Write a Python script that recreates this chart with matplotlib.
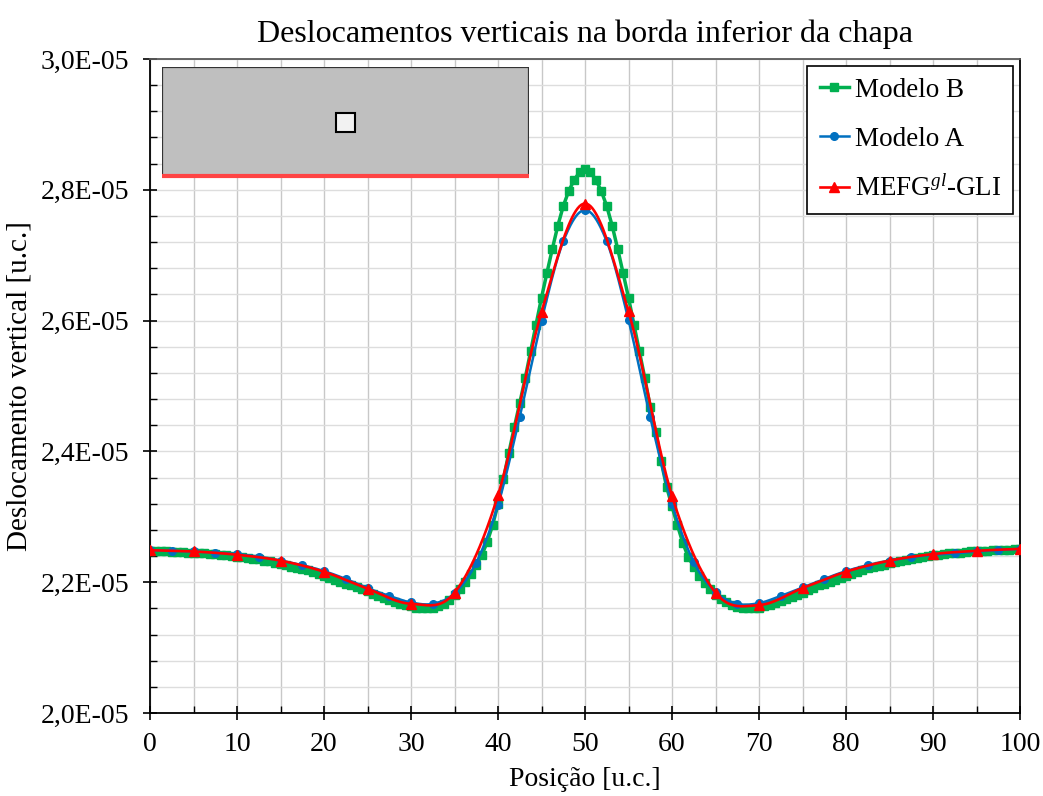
import numpy as np
import matplotlib
matplotlib.use("Agg")
import matplotlib.pyplot as plt
from matplotlib.ticker import MultipleLocator, FuncFormatter
from matplotlib.patches import Rectangle

plt.rcParams['font.family'] = ['Liberation Serif', 'DejaVu Serif']
plt.rcParams['mathtext.fontset'] = 'custom'
plt.rcParams['mathtext.rm'] = 'Liberation Serif'
plt.rcParams['mathtext.it'] = 'Liberation Serif:italic'

SCALE = 1e-5  # values below are in units of 1E-05

# Modelo B (green squares), x from 0 to 100 in steps of 0.625
modelo_b = [
    2.247, 2.247, 2.247, 2.247, 2.246, 2.246, 2.246, 2.245,
    2.245, 2.244, 2.244, 2.243, 2.243, 2.242, 2.241, 2.240,
    2.239, 2.238, 2.237, 2.236, 2.235, 2.233, 2.232, 2.230,
    2.228, 2.226, 2.224, 2.222, 2.220, 2.218, 2.215, 2.213,
    2.210, 2.207, 2.204, 2.201, 2.198, 2.195, 2.192, 2.189,
    2.186, 2.182, 2.179, 2.176, 2.173, 2.170, 2.167, 2.165,
    2.163, 2.161, 2.160, 2.160, 2.161, 2.163, 2.167, 2.173,
    2.181, 2.190, 2.200, 2.212, 2.226, 2.241, 2.261, 2.287,
    2.319, 2.358, 2.398, 2.437, 2.474, 2.512, 2.553, 2.594,
    2.635, 2.673, 2.710, 2.745, 2.775, 2.798, 2.815, 2.827,
    2.832,
    2.827, 2.815, 2.798, 2.775, 2.745, 2.710, 2.673, 2.635,
    2.594, 2.553, 2.512, 2.468, 2.430, 2.385, 2.346, 2.316,
    2.287, 2.260, 2.238, 2.224, 2.210, 2.199, 2.190, 2.181,
    2.174, 2.169, 2.165, 2.162, 2.160, 2.160, 2.160, 2.161,
    2.163, 2.165, 2.168, 2.171, 2.174, 2.177, 2.181, 2.184,
    2.188, 2.191, 2.195, 2.198, 2.201, 2.204, 2.207, 2.210,
    2.213, 2.216, 2.218, 2.221, 2.223, 2.225, 2.227, 2.229,
    2.231, 2.233, 2.234, 2.236, 2.237, 2.238, 2.240, 2.241,
    2.242, 2.243, 2.244, 2.245, 2.245, 2.246, 2.247, 2.247,
    2.248, 2.248, 2.249, 2.249, 2.250, 2.250, 2.251, 2.251,
]

# Modelo A (blue circles), x from 0 to 100 in steps of 2.5
modelo_a = [
    2.249, 2.248, 2.247, 2.245, 2.243, 2.239, 2.233, 2.226,
    2.217, 2.205, 2.191, 2.179, 2.169, 2.167, 2.183, 2.230,
    2.318, 2.453, 2.600, 2.721, 2.769, 2.721, 2.601, 2.452,
    2.320, 2.231, 2.185, 2.167, 2.168, 2.179, 2.192, 2.205,
    2.217, 2.226, 2.233, 2.238, 2.242, 2.244, 2.247, 2.249,
    2.251,
]

# MEFG-GLI (red triangles), x from 0 to 100 in steps of 5
mefg = [
    2.249, 2.247, 2.242, 2.233, 2.216, 2.190, 2.167, 2.184,
    2.333, 2.613, 2.779, 2.614, 2.332, 2.184, 2.165, 2.191,
    2.216, 2.233, 2.243, 2.248, 2.251,
]

x_b = np.linspace(0, 100, len(modelo_b))
x_a = np.linspace(0, 100, len(modelo_a))
x_m = np.linspace(0, 100, len(mefg))


def smooth(x, y, n=24):
    """Excel-like smoothed line (cubic Bezier through the points)."""
    x = np.asarray(x, float)
    y = np.asarray(y, float)
    px = np.concatenate([[x[0]], x, [x[-1]]])
    py = np.concatenate([[y[0]], y, [y[-1]]])
    xs, ys = [], []
    t = np.linspace(0, 1, n, endpoint=False)[:, None]
    for i in range(1, len(px) - 2):
        p0 = np.array([px[i], py[i]])
        p3 = np.array([px[i + 1], py[i + 1]])
        c1 = p0 + (np.array([px[i + 1], py[i + 1]]) - np.array([px[i - 1], py[i - 1]])) / 6
        c2 = p3 - (np.array([px[i + 2], py[i + 2]]) - np.array([px[i], py[i]])) / 6
        pts = ((1 - t) ** 3) * p0 + 3 * ((1 - t) ** 2) * t * c1 + 3 * (1 - t) * t ** 2 * c2 + t ** 3 * p3
        xs.append(pts[:, 0])
        ys.append(pts[:, 1])
    xs.append([x[-1]])
    ys.append([y[-1]])
    return np.concatenate(xs), np.concatenate(ys)


GREEN = '#00B050'
BLUE = '#0070C0'
RED = '#FF0000'

fig = plt.figure(figsize=(10.43, 7.96), dpi=100)
ax = fig.add_axes([150 / 1043, 1 - 713 / 796, 870 / 1043, 654 / 796])

yb = np.array(modelo_b) * SCALE
ya = np.array(modelo_a) * SCALE
ym = np.array(mefg) * SCALE

ax.plot(x_b, yb, color=GREEN, lw=2.5, marker='s', ms=5.3, mec=GREEN, mfc=GREEN,
        zorder=3, label='Modelo B')

sx, sy = smooth(x_a, ya)
ax.plot(sx, sy, color=BLUE, lw=1.8, zorder=4)
ax.plot(x_a, ya, ls='none', marker='o', ms=5.5, color=BLUE, zorder=4)
ax.plot([], [], color=BLUE, lw=1.8, marker='o', ms=5.5, label='Modelo A')

sx, sy = smooth(x_m, ym)
ax.plot(sx, sy, color=RED, lw=1.9, zorder=5)
ax.plot(x_m, ym, ls='none', marker='^', ms=6.5, color=RED, zorder=5)
ax.plot([], [], color=RED, lw=1.9, marker='^', ms=6.5, label='MEFG$^{gl}$-GLI')

ax.set_xlim(0, 100)
ax.set_ylim(2.0e-5, 3.0e-5)
ax.xaxis.set_major_locator(MultipleLocator(10))
ax.xaxis.set_minor_locator(MultipleLocator(5))
ax.yaxis.set_major_locator(MultipleLocator(0.2e-5))
ax.yaxis.set_minor_locator(MultipleLocator(0.04e-5))
ax.yaxis.set_major_formatter(FuncFormatter(lambda v, p: f"{v:.1E}".replace('.', ',')))

ax.grid(True, which='both', axis='x', color='#C8C8C8', lw=1.0, zorder=0)
ax.grid(True, which='both', axis='y', color='#DDDDDD', lw=1.0, zorder=0)
ax.set_axisbelow(True)

ax.tick_params(axis='both', which='major', direction='inout', length=10, width=1.2,
               labelsize=20, color='black')
ax.tick_params(axis='both', which='minor', direction='in', length=5, width=1.0)
ax.tick_params(axis='y', which='major', pad=10)
ax.tick_params(axis='x', which='major', pad=9)
for side in ['left', 'bottom', 'right']:
    ax.spines[side].set_color('black')
    ax.spines[side].set_linewidth(1.3)
ax.spines['top'].set_color('#595959')
ax.spines['top'].set_linewidth(1.3)

ax.set_title('Deslocamentos verticais na borda inferior da chapa', fontsize=23, pad=12)
ax.set_xlabel('Posição [u.c.]', fontsize=20, labelpad=7)
ax.set_ylabel('Deslocamento vertical [u.c.]', fontsize=21, labelpad=6)

leg = ax.legend(loc='upper right', fontsize=19.5, frameon=True, fancybox=False,
                edgecolor='black', framealpha=1, handlelength=1.1, handletextpad=0.2,
                labelspacing=0.88, borderpad=0.45, borderaxespad=0.25)
leg.get_frame().set_linewidth(1.2)
leg.set_zorder(10)

# inset sketch of the plate
ins = fig.add_axes([162 / 1043, 1 - 177 / 796, 367 / 1043, 110 / 796])
ins.set_xlim(0, 367)
ins.set_ylim(0, 110)
ins.add_patch(Rectangle((0, 0), 367, 110, facecolor='#BFBFBF', edgecolor='#333333', lw=1.6))
ins.add_patch(Rectangle((174, 45.5), 19, 19, facecolor='#F2F2F2', edgecolor='black', lw=1.5))
ins.plot([0, 367], [1.5, 1.5], color='#FF4444', lw=3.0, solid_capstyle='butt', clip_on=False)
ins.axis('off')

fig.savefig('out.png', dpi=100)
